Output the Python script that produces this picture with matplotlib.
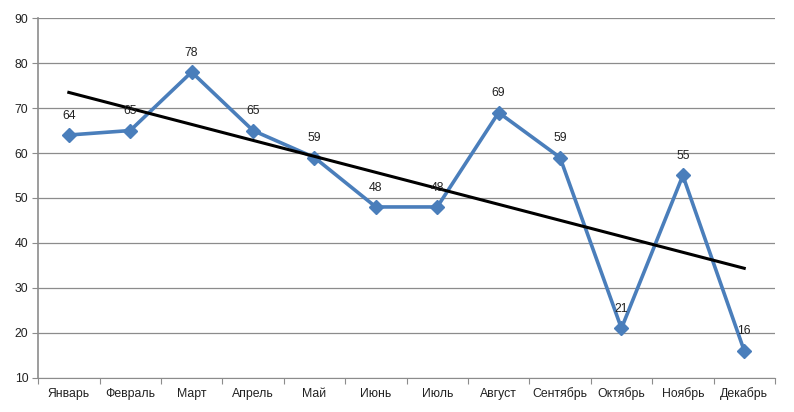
import numpy as np
import matplotlib.pyplot as plt

plt.rcParams['font.family'] = ['Liberation Sans', 'DejaVu Sans']

months = ['Январь', 'Февраль', 'Март', 'Апрель', 'Май', 'Июнь',
          'Июль', 'Август', 'Сентябрь', 'Октябрь', 'Ноябрь', 'Декабрь']
values = [64, 65, 78, 65, 59, 48, 48, 69, 59, 21, 55, 16]

x = np.arange(len(months))

fig = plt.figure(figsize=(7.94, 4.12), dpi=100)
ax = fig.add_axes([0.048, 0.083, 0.928, 0.873])

# gridlines
ax.set_ylim(10, 90)
ax.set_yticks(range(10, 91, 10))
ax.yaxis.grid(True, color='#8c8c8c', linewidth=0.9)
ax.set_axisbelow(True)

ax.plot(x, values, color='#4a7ebb', linewidth=2.6, marker='D', markersize=7,
        markerfacecolor='#4a7ebb', markeredgecolor='#4a7ebb', zorder=3)

for xi, v in zip(x, values):
    ax.annotate(str(v), (xi, v), xytext=(0, 14), textcoords='offset points',
                ha='center', va='center', fontsize=8.8, color='#222222', zorder=5)

# linear trend
k, b = np.polyfit(x, values, 1)
ax.plot(x, k * x + b, color='black', linewidth=2.2, zorder=4)

ax.set_xlim(-0.5, len(months) - 0.5)
ax.set_xticks(np.arange(-0.5, len(months), 1.0))
ax.set_xticklabels([])
ax.set_xticks(x, minor=True)
ax.set_xticklabels(months, minor=True, fontsize=8.8, color='#222222')
ax.tick_params(axis='x', which='minor', length=0, pad=7)
ax.tick_params(axis='x', which='major', length=4, color='#8c8c8c')
ax.tick_params(axis='y', length=4, color='#8c8c8c', labelsize=8.8, labelcolor='#222222', pad=3)

for s in ['top', 'right']:
    ax.spines[s].set_visible(False)
ax.spines['left'].set_color('#8c8c8c')
ax.spines['bottom'].set_color('#8c8c8c')
ax.spines['left'].set_linewidth(1.2)

fig.savefig('out.png', dpi=100)
